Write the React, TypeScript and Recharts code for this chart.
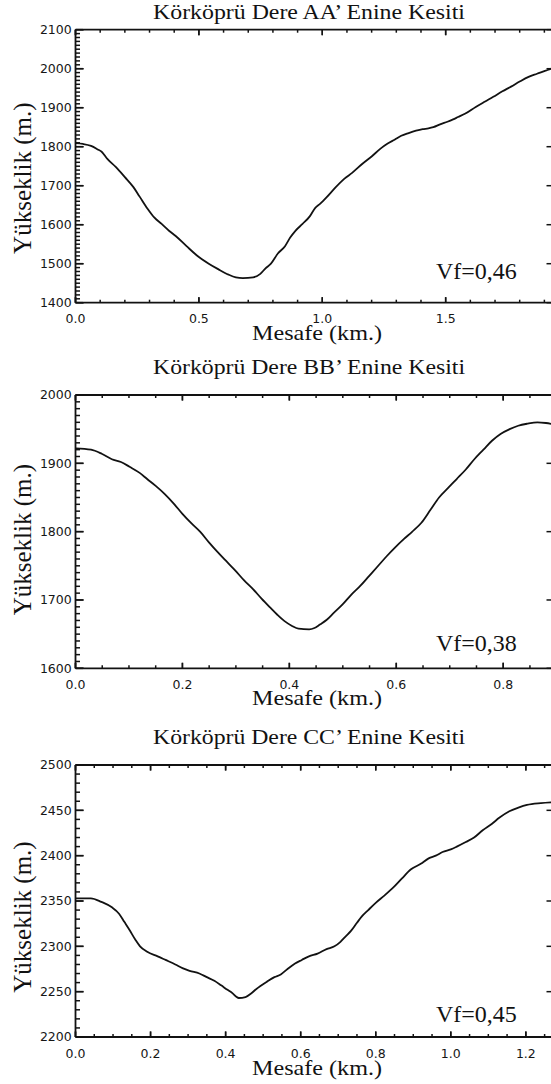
import React from 'react';
import { LineChart, Line, XAxis, YAxis, Label, ReferenceLine } from 'recharts';

// ---------- Panel AA' ----------
const aaTitle = 'Körköprü Dere AA’ Enine Kesiti';
const aaVf = 'Vf=0,46';
const aaDistance = [
  0, 0.03, 0.063, 0.09, 0.106, 0.13, 0.163, 0.2, 0.234, 0.26, 0.292, 0.32, 0.349, 0.38, 0.406, 0.45, 0.492, 0.54,
  0.578, 0.62, 0.65, 0.678, 0.72, 0.749, 0.77, 0.792, 0.82, 0.849, 0.87, 0.892, 0.92, 0.95, 0.97, 0.992, 1.02, 1.05,
  1.09, 1.121, 1.164, 1.2, 1.236, 1.265, 1.293, 1.32, 1.35, 1.38, 1.407, 1.43, 1.45, 1.48, 1.507, 1.53, 1.55, 1.58,
  1.622, 1.66, 1.693, 1.73, 1.765, 1.8, 1.836, 1.87, 1.905, 1.93, 1.939,
];
const aaElevation = [
  1809, 1807, 1802, 1793, 1787, 1768, 1748, 1722, 1697, 1672, 1641, 1618, 1602, 1584, 1571, 1545, 1521, 1500,
  1486, 1472, 1465, 1463, 1465, 1474, 1488, 1500, 1526, 1545, 1567, 1585, 1602, 1622, 1642, 1654, 1672, 1693,
  1718, 1733, 1757, 1775, 1795, 1808, 1818, 1828, 1835, 1841, 1845, 1847, 1850, 1858, 1864, 1870, 1876, 1885,
  1902, 1916, 1928, 1942, 1954, 1967, 1979, 1987, 1995, 2001, 2004,
];
const aaXTicks = [0, 0.5, 1.0, 1.5];
const aaYTicks = [1400, 1500, 1600, 1700, 1800, 1900, 2000, 2100];

// ---------- Panel BB' ----------
const bbTitle = 'Körköprü Dere BB’ Enine Kesiti';
const bbVf = 'Vf=0,38';
const bbDistance = [
  0, 0.029, 0.049, 0.068, 0.085, 0.101, 0.12, 0.134, 0.15, 0.167, 0.185, 0.2, 0.217, 0.233, 0.25, 0.266, 0.283,
  0.299, 0.315, 0.332, 0.348, 0.364, 0.378, 0.391, 0.405, 0.417, 0.437, 0.447, 0.457, 0.47, 0.483, 0.5, 0.516,
  0.533, 0.549, 0.565, 0.582, 0.598, 0.614, 0.63, 0.647, 0.664, 0.68, 0.697, 0.713, 0.73, 0.746, 0.763, 0.779,
  0.795, 0.812, 0.828, 0.845, 0.864, 0.88, 0.895,
];
const bbElevation = [
  1922, 1920, 1914, 1906, 1902, 1895, 1886, 1877, 1867, 1855, 1840, 1826, 1812, 1800, 1784, 1770, 1756,
  1743, 1729, 1716, 1702, 1689, 1678, 1669, 1662, 1658, 1657, 1659, 1664, 1671, 1681, 1694, 1708,
  1721, 1735, 1749, 1764, 1777, 1789, 1800, 1813, 1832, 1850, 1864, 1877, 1891, 1906, 1920, 1933,
  1943, 1950, 1955, 1958, 1960, 1959, 1957,
];
const bbXTicks = [0, 0.2, 0.4, 0.6, 0.8];
const bbYTicks = [1600, 1700, 1800, 1900, 2000];

// ---------- Panel CC' ----------
const ccTitle = 'Körköprü Dere CC’ Enine Kesiti';
const ccVf = 'Vf=0,45';
const ccDistance = [
  0, 0.041, 0.069, 0.097, 0.116, 0.13, 0.144, 0.16, 0.172, 0.191, 0.219, 0.24, 0.266, 0.285, 0.304, 0.33, 0.35,
  0.37, 0.388, 0.405, 0.416, 0.435, 0.453, 0.468, 0.482, 0.51, 0.53, 0.547, 0.565, 0.585, 0.603, 0.622, 0.645,
  0.669, 0.69, 0.706, 0.72, 0.734, 0.75, 0.763, 0.78, 0.8, 0.823, 0.847, 0.87, 0.894, 0.92, 0.941, 0.96, 0.978,
  1.0, 1.016, 1.04, 1.062, 1.085, 1.109, 1.13, 1.156, 1.18, 1.203, 1.24, 1.275,
];
const ccElevation = [
  2353, 2353, 2349, 2343, 2336, 2327, 2318, 2307, 2300, 2294, 2289, 2285, 2280, 2276, 2273, 2270, 2266,
  2262, 2257, 2252, 2249, 2243, 2244, 2248, 2253, 2261, 2266, 2269, 2275, 2281, 2285, 2289, 2292,
  2297, 2300, 2305, 2311, 2317, 2326, 2333, 2340, 2348, 2356, 2365, 2375, 2385, 2391, 2397, 2400, 2404,
  2407, 2410, 2415, 2420, 2428, 2435, 2442, 2449, 2453, 2456, 2458, 2459,
];
const ccXTicks = [0, 0.2, 0.4, 0.6, 0.8, 1.0, 1.2];
const ccYTicks = [2200, 2250, 2300, 2350, 2400, 2450, 2500];

const xAxisTitle = 'Mesafe (km.)';
const yAxisTitle = 'Yükseklik (m.)';

function range(start: number, end: number, step: number): number[] {
  const out: number[] = [];
  for (let i = 0; start + i * step <= end + 1e-9; i++) out.push(+(start + i * step).toFixed(4));
  return out;
}

const INK = '#121212';
const SERIF = '"Liberation Serif", "Times New Roman", serif';
const SANS = '"DejaVu Sans", sans-serif';
const PLOT_LEFT = 75.5;
const PLOT_RIGHT = 554;
const LEFT_W = 60;
const RIGHT_W = 40;
const TOP_H = 20;
const BOTTOM_H = 30;
const CHART_W = PLOT_RIGHT + RIGHT_W;
const MARK_W = 1.5;

type PanelProps = {
  top: number;
  height: number;
  plotTop: number;
  plotBottom: number;
  title: string;
  vf: string;
  dist: number[];
  elev: number[];
  xMax: number;
  xTicks: number[];
  xMinorStep: number;
  yTicks: number[];
  yMinorStep: number;
  titleGap: number;
  mesafeGap: number;
  yLabelDy: number;
  vfGap: number;
};

const isIn = (list: number[], v: number) => list.some((t) => Math.abs(t - v) < 1e-6);
const blank = () => '';

function Panel(p: PanelProps) {
  const data = p.dist.map((d, i) => ({ d, e: p.elev[i] }));
  const yMin = p.yTicks[0];
  const yMax = p.yTicks[p.yTicks.length - 1];
  const xMarks = range(0, p.xMax, p.xMinorStep);
  const yMarks = range(yMin, yMax, p.yMinorStep);
  const axisLine = { stroke: INK, strokeWidth: 1.8 };
  const tickLine = { stroke: INK, strokeWidth: MARK_W };
  const xDomain = [0, p.xMax];
  const yDomain = [yMin, yMax];
  const yMid = (p.plotTop + p.plotBottom) / 2 + p.yLabelDy;
  const tickFont = { fill: '#161616', fontSize: 12.5, fontFamily: SANS };

  // inward tick marks as short reference segments (pixel lengths expressed in data units)
  const yPerPx = (yMax - yMin) / (p.plotBottom - p.plotTop);
  const xPerPx = p.xMax / (PLOT_RIGHT - PLOT_LEFT);
  const marks: React.ReactNode[] = [];
  xMarks.forEach((v) => {
    const len = (isIn(p.xTicks, v) ? 5.5 : 3) * yPerPx;
    marks.push(
      <ReferenceLine key={`xb${v}`} xAxisId="b" yAxisId="l" ifOverflow="visible" stroke={INK} strokeWidth={MARK_W}
        segment={[{ x: v, y: yMin }, { x: v, y: yMin + len }]} />,
      <ReferenceLine key={`xt${v}`} xAxisId="b" yAxisId="l" ifOverflow="visible" stroke={INK} strokeWidth={MARK_W}
        segment={[{ x: v, y: yMax }, { x: v, y: yMax - len }]} />,
    );
  });
  yMarks.forEach((v) => {
    const len = (isIn(p.yTicks, v) ? 8 : 4.5) * xPerPx;
    marks.push(
      <ReferenceLine key={`yl${v}`} xAxisId="b" yAxisId="l" ifOverflow="visible" stroke={INK} strokeWidth={MARK_W}
        segment={[{ x: 0, y: v }, { x: len, y: v }]} />,
    );
  });
  p.yTicks.forEach((v) => {
    marks.push(
      <ReferenceLine key={`yr${v}`} xAxisId="b" yAxisId="l" ifOverflow="visible" stroke={INK} strokeWidth={MARK_W}
        segment={[{ x: p.xMax, y: v }, { x: p.xMax - 7.5 * xPerPx, y: v }]} />,
    );
  });

  return (
    <div style={{ position: 'absolute', left: 0, top: p.top, width: CHART_W, height: p.height }}>
      <LineChart
        width={CHART_W}
        height={p.height}
        data={data}
        margin={{ top: p.plotTop - TOP_H, right: 0, bottom: p.height - p.plotBottom - BOTTOM_H, left: PLOT_LEFT - LEFT_W }}
      >
        <XAxis xAxisId="b" dataKey="d" type="number" domain={xDomain} ticks={p.xTicks} interval={0} height={BOTTOM_H}
          orientation="bottom" axisLine={axisLine} tickLine={tickLine} tickSize={-5.5} tickMargin={17.2}
          tickFormatter={(v: number) => v.toFixed(1)} tick={tickFont}>
          <Label content={() => (
            <text x={317} y={p.plotBottom + p.mesafeGap} textAnchor="middle" fontFamily={SERIF} fontSize={21}
              textLength={130} lengthAdjust="spacingAndGlyphs" fill={INK}>
              {xAxisTitle}
            </text>
          )} />
        </XAxis>
        <XAxis xAxisId="t" dataKey="d" type="number" domain={xDomain} ticks={p.xTicks} interval={0} height={TOP_H}
          orientation="top" axisLine={axisLine} tickLine={tickLine} tickSize={-5.5} tickFormatter={blank} tick={tickFont}>
          <Label content={() => (
            <text x={309} y={p.plotTop - p.titleGap} textAnchor="middle" fontFamily={SERIF} fontSize={20.5}
              textLength={312} lengthAdjust="spacingAndGlyphs" fill={INK}>
              {p.title}
            </text>
          )} />
        </XAxis>
        <YAxis yAxisId="l" type="number" domain={yDomain} ticks={p.yTicks} interval={0} width={LEFT_W}
          orientation="left" axisLine={axisLine} tickLine={tickLine} tickSize={-8} tickMargin={11.8} tick={tickFont}>
          <Label content={() => (
            <text x={31} y={yMid} transform={`rotate(-90, 31, ${yMid})`} textAnchor="middle" fontFamily={SERIF}
              fontSize={25} fill={INK}>
              {yAxisTitle}
            </text>
          )} />
        </YAxis>
        <YAxis yAxisId="r" type="number" domain={yDomain} ticks={p.yTicks} interval={0} width={RIGHT_W}
          orientation="right" axisLine={axisLine} tickLine={tickLine} tickSize={-7.5} tickFormatter={blank} tick={tickFont}>
          <Label content={() => (
            <text x={436} y={p.plotBottom - p.vfGap} textAnchor="start" fontFamily={SERIF} fontSize={24} fill={INK}>
              {p.vf}
            </text>
          )} />
        </YAxis>

        {marks}

        <Line xAxisId="b" yAxisId="l" dataKey="e" type="monotone" stroke={INK} strokeWidth={1.8} dot={false}
          activeDot={false} isAnimationActive={false} />
      </LineChart>
    </div>
  );
}

export default function App() {
  return (
    <div style={{ position: 'absolute', left: 0, top: 0, width: 551, height: 1084, overflow: 'hidden', background: '#fff' }}>
      <Panel top={0} height={360} plotTop={29.7} plotBottom={302.7} title={aaTitle} vf={aaVf}
        dist={aaDistance} elev={aaElevation} xMax={1.939} xTicks={aaXTicks} xMinorStep={0.1}
        yTicks={aaYTicks} yMinorStep={10} titleGap={10.5} mesafeGap={37.5} yLabelDy={12} vfGap={24} />
      <Panel top={340} height={380} plotTop={55} plotBottom={328.3} title={bbTitle} vf={bbVf}
        dist={bbDistance} elev={bbElevation} xMax={0.895} xTicks={bbXTicks} xMinorStep={0.05}
        yTicks={bbYTicks} yMinorStep={10} titleGap={21} mesafeGap={36.5} yLabelDy={8} vfGap={17} />
      <Panel top={700} height={384} plotTop={65} plotBottom={337} title={ccTitle} vf={ccVf}
        dist={ccDistance} elev={ccElevation} xMax={1.275} xTicks={ccXTicks} xMinorStep={0.05}
        yTicks={ccYTicks} yMinorStep={10} titleGap={21} mesafeGap={37.5} yLabelDy={16} vfGap={15} />
    </div>
  );
}
